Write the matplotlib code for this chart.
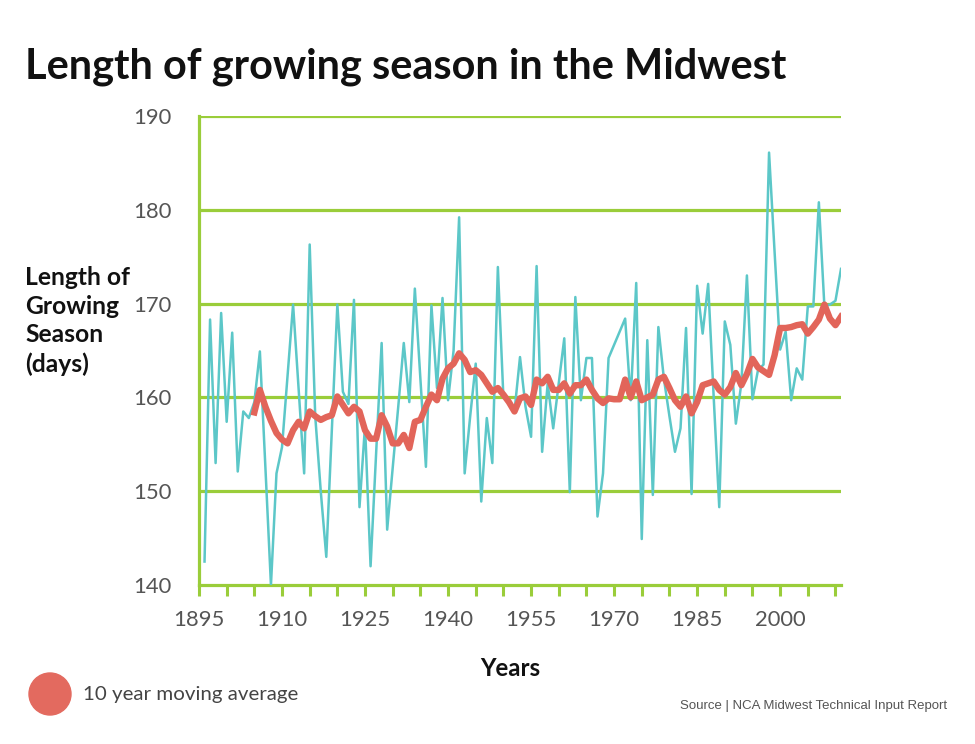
import numpy as np
import matplotlib
matplotlib.use("Agg")
import matplotlib.pyplot as plt
from matplotlib.patches import Ellipse

# growing season length, yearly values (days)
years = list(range(1896, 2012))
season = [
    142.5, 168.3, 153.0, 169.0, 157.4, 166.9, 152.1, 158.5, 157.8, 159.5,  # 1896-1905
    164.9, 152.5, 140.0, 151.9, 154.7, 162.3, 169.9, 160.9, 151.9, 176.3,  # 1906-1915
    158.0, 150.0, 143.0, 156.5, 169.9, 160.6, 159.3, 170.4, 148.3, 157.0,  # 1916-1925
    142.0, 154.0, 165.8, 145.9, 152.5, 159.0, 165.8, 159.5, 171.6, 162.0,  # 1926-1935
    152.6, 169.8, 161.0, 170.6, 159.7, 165.0, 179.2, 151.9, 158.0, 163.6,  # 1936-1945
    148.9, 157.8, 153.0, 173.9, 160.0, 159.8, 158.5, 164.3, 159.0, 155.8,  # 1946-1955
    174.0, 154.2, 161.5, 156.7, 161.5, 166.3, 149.9, 170.7, 159.7, 164.2,  # 1956-1965
    164.2, 147.3, 151.9, 164.2, 165.6, 167.0, 168.4, 159.7, 172.2, 144.9,  # 1966-1975
    166.1, 149.6, 167.5, 162.0, 158.0, 154.2, 156.7, 167.4, 149.7, 171.9,  # 1976-1985
    166.8, 172.1, 160.0, 148.3, 168.1, 165.6, 157.2, 161.5, 173.0, 159.8,  # 1986-1995
    162.9, 163.5, 186.1, 175.5, 165.1, 167.0, 159.7, 163.1, 161.9, 169.7,  # 1996-2005
    169.7, 180.8, 169.7, 169.9, 170.3, 173.7,                              # 2006-2011
]

# 10 year moving average as drawn
ma_years = list(range(1905, 2012))
ma = [
    158.4, 160.8, 159.0, 157.5, 156.2, 155.5, 155.1, 156.5, 157.4, 156.7,  # 1905-1914
    158.5, 158.0, 157.6, 157.9, 158.1, 160.1, 159.2, 158.3, 159.0, 158.5,  # 1915-1924
    156.5, 155.6, 155.6, 158.1, 156.9, 155.1, 155.1, 156.0, 154.6, 157.4,  # 1925-1934
    157.6, 159.0, 160.3, 159.7, 162.0, 163.1, 163.6, 164.7, 164.0, 162.7,  # 1935-1944
    162.9, 162.4, 161.5, 160.6, 161.0, 160.3, 159.5, 158.5, 159.9, 160.1,  # 1945-1954
    159.2, 161.9, 161.5, 162.2, 160.8, 160.8, 161.5, 160.4, 161.3, 161.3,  # 1955-1964
    161.9, 160.8, 159.9, 159.4, 159.9, 159.8, 159.8, 161.9, 160.0, 161.7,  # 1965-1974
    159.7, 160.0, 160.3, 161.9, 162.2, 161.0, 159.7, 159.0, 160.1, 158.3,  # 1975-1984
    159.5, 161.3, 161.5, 161.7, 160.8, 160.3, 161.1, 162.6, 161.3, 162.5,  # 1985-1994
    164.1, 163.2, 162.8, 162.4, 164.5, 167.4, 167.4, 167.5, 167.7, 167.8,  # 1995-2004
    166.8, 167.5, 168.3, 169.9, 168.4, 167.7, 168.6,                       # 2005-2011
]

xtick_labels = [1895, 1910, 1925, 1940, 1955, 1970, 1985, 2000]

green = '#9acd3a'
teal = '#5cc7c8'
red = '#e2655a'
bold_font = ['Lato', 'DejaVu Sans']
light_font = ['Lato', 'DejaVu Sans']

W, H = 975, 744
fig = plt.figure(figsize=(9.75, 7.44), dpi=100)
ax = fig.add_axes([199 / W, 1 - 585 / H, 642 / W, 469 / H])

ax.plot(years, season, color=teal, linewidth=1.8, zorder=3)
ax.plot(ma_years, ma, color=red, linewidth=4.6, zorder=4)

ax.set_xlim(1895, 2011)
ax.set_ylim(140, 190)
ax.set_yticks([140, 150, 160, 170, 180, 190])
ax.set_xticks(list(range(1895, 2011, 5)))
ax.set_xticklabels([str(y) if y in xtick_labels else '' for y in range(1895, 2011, 5)])

for v in [150, 160, 170, 180, 190]:
    ax.axhline(v, color=green, linewidth=2.3, zorder=1)

for s in ['top', 'right']:
    ax.spines[s].set_visible(False)
ax.spines['left'].set_color(green)
ax.spines['left'].set_linewidth(2.3)
ax.spines['bottom'].set_color(green)
ax.spines['bottom'].set_linewidth(2.3)

ax.tick_params(axis='x', direction='out', length=8, width=2.2, color=green, pad=10,
               labelsize=16.5, labelcolor='#555555')
ax.tick_params(axis='y', length=0, pad=19.5, labelsize=16.5, labelcolor='#555555')
for lab in ax.get_xticklabels() + ax.get_yticklabels():
    lab.set_family(light_font)

title = fig.text(25 / W, 1 - 78 / H, 'Length of growing season in the Midwest', fontsize=30,
                 fontweight='bold', family=bold_font, ha='left', va='baseline', color='#111111')
ylab = fig.text(25 / W, 1 - 321 / H, 'Length of\nGrowing\nSeason\n(days)', fontsize=18,
                fontweight='bold', family=bold_font, ha='left', va='center',
                linespacing=1.3, color='#111111')
xlab = fig.text(510 / W, 1 - 676 / H, 'Years', fontsize=18, fontweight='bold',
                family=bold_font, ha='center', va='baseline', color='#111111')

# legend marker
fig.patches.append(Ellipse((50 / W, 1 - 694 / H), 42 / W, 42 / H,
                           transform=fig.transFigure, color='#e36a5f', zorder=5))
leg = fig.text(83 / W, 1 - 700 / H, '10 year moving average', fontsize=15.5,
               family=light_font, ha='left', va='baseline', color='#444444')
fig.text(947 / W, 1 - 709 / H, 'Source | NCA Midwest Technical Input Report',
         fontsize=9.5, family=['Liberation Sans', 'DejaVu Sans'], ha='right', va='baseline',
         color='#555555')

# size texts to the widths they take in the reference
fig.canvas.draw()
r = fig.canvas.get_renderer()
for t, target in [(title, 762), (ylab, 105), (xlab, 60), (leg, 215)]:
    w = t.get_window_extent(r).width
    t.set_fontsize(t.get_fontsize() * target / w)
lab0 = ax.get_xticklabels()[0]
w = lab0.get_window_extent(r).width
ts = 16.5 * 51 / w
ax.tick_params(axis='both', labelsize=ts)

fig.savefig('out.png', dpi=100)
